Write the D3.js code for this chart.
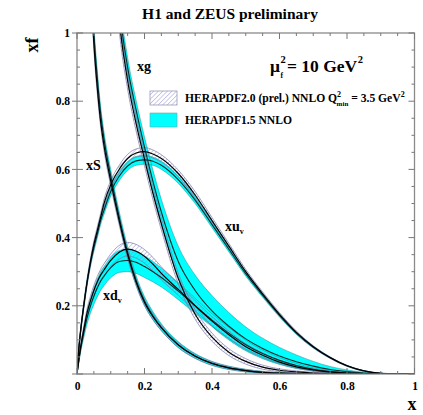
<!DOCTYPE html>
<html><head><meta charset="utf-8">
<script src="https://cdn.jsdelivr.net/npm/d3@7"></script>
<style>
body{margin:0;background:#fff}
text{font-family:"Liberation Serif","Times New Roman",serif;font-weight:bold;fill:#000}
</style>
</head><body>
<svg id="c" width="423" height="415"></svg>
<script>
// ---------------- data ----------------
const xGrid = [0,0.005,0.01,0.02,0.03,0.04,0.05,0.06,0.07,0.08,0.1,0.125,0.15,0.175,0.2,0.225,0.25,0.3,0.35,0.4,0.45,0.5,0.55,0.6,0.65,0.7,0.75,0.8,0.85,0.9,0.95,1.0];

const xuv20    = [0,0.07,0.12,0.2,0.27,0.33,0.38,0.42,0.46,0.5,0.555,0.6,0.632,0.648,0.652,0.645,0.632,0.588,0.525,0.45,0.375,0.3,0.235,0.175,0.122,0.08,0.048,0.024,0.009,0.002,0.0004,0];
const xuv20Err = [0,0.004,0.006,0.008,0.009,0.01,0.01,0.011,0.011,0.012,0.012,0.012,0.012,0.012,0.012,0.012,0.011,0.01,0.01,0.009,0.008,0.007,0.006,0.005,0.004,0.003,0.002,0.0015,0.001,0.0005,0.0002,0];
const xuv15    = [0,0.07,0.12,0.2,0.27,0.325,0.37,0.41,0.45,0.48,0.535,0.58,0.61,0.625,0.628,0.624,0.612,0.57,0.51,0.438,0.366,0.294,0.231,0.172,0.12,0.079,0.048,0.024,0.009,0.002,0.0004,0];
const xuv15Err = [0,0.004,0.006,0.008,0.009,0.01,0.011,0.012,0.012,0.012,0.013,0.013,0.013,0.013,0.013,0.012,0.012,0.011,0.01,0.009,0.008,0.007,0.006,0.005,0.004,0.003,0.002,0.0015,0.001,0.0005,0.0002,0];

const xdv20    = [0,0.04,0.075,0.13,0.18,0.215,0.245,0.27,0.29,0.305,0.333,0.357,0.366,0.36,0.345,0.322,0.295,0.248,0.2,0.155,0.115,0.08,0.055,0.035,0.021,0.012,0.006,0.003,0.001,0.0003,0,0];
const xdv20Err = [0,0.004,0.006,0.01,0.012,0.014,0.015,0.016,0.017,0.018,0.019,0.02,0.02,0.02,0.02,0.02,0.019,0.017,0.015,0.013,0.011,0.009,0.007,0.005,0.004,0.003,0.002,0.001,0.0005,0.0002,0,0];
const xdv15    = [0,0.035,0.068,0.12,0.165,0.2,0.228,0.252,0.272,0.287,0.312,0.33,0.333,0.328,0.315,0.3,0.283,0.243,0.2,0.158,0.12,0.086,0.06,0.04,0.025,0.014,0.007,0.003,0.001,0.0003,0,0];
const xdv15Err = [0,0.005,0.008,0.014,0.018,0.021,0.024,0.026,0.027,0.028,0.03,0.032,0.033,0.033,0.032,0.03,0.028,0.025,0.022,0.019,0.016,0.013,0.01,0.008,0.006,0.004,0.003,0.002,0.001,0.0005,0,0];

const xS20    = [null,null,3.0,1.9,1.45,1.17,0.97,0.84,0.74,0.67,0.565,0.45,0.35,0.27,0.21,0.168,0.135,0.085,0.052,0.031,0.018,0.01,0.005,0.0025,0.0012,0.0005,0,0,0,0,0,0];
const xS20Err = [null,null,0.04,0.03,0.025,0.02,0.018,0.016,0.015,0.015,0.014,0.013,0.012,0.011,0.01,0.009,0.008,0.007,0.006,0.005,0.004,0.003,0.002,0.001,0.001,0,0,0,0,0,0,0];
const xS15    = [null,null,3.05,1.95,1.5,1.21,1.0,0.87,0.765,0.69,0.58,0.46,0.357,0.275,0.214,0.171,0.137,0.086,0.053,0.031,0.018,0.01,0.005,0.0025,0.0012,0.0005,0,0,0,0,0,0];
const xS15Err = [null,null,0.05,0.04,0.032,0.027,0.024,0.022,0.02,0.02,0.019,0.017,0.016,0.014,0.013,0.012,0.01,0.009,0.007,0.006,0.005,0.004,0.003,0.002,0.001,0,0,0,0,0,0,0];

const xg20    = [null,null,null,null,null,null,3.0,2.5,2.1,1.8,1.38,1.04,0.86,0.735,0.63,0.53,0.44,0.28,0.175,0.108,0.064,0.037,0.02,0.011,0.006,0.003,0.0015,0.0007,0.0003,0,0,0];
const xg20Err = [null,null,null,null,null,null,0.06,0.05,0.045,0.04,0.035,0.03,0.025,0.022,0.02,0.019,0.018,0.016,0.014,0.012,0.01,0.008,0.006,0.004,0.003,0.002,0.001,0.0005,0.0002,0,0,0];
const xg15    = [null,null,null,null,null,null,3.05,2.55,2.15,1.85,1.42,1.08,0.9,0.775,0.665,0.565,0.475,0.33,0.245,0.185,0.14,0.103,0.075,0.053,0.036,0.023,0.013,0.007,0.003,0.001,0,0];
const xg15Err = [null,null,null,null,null,null,0.06,0.05,0.045,0.04,0.035,0.03,0.028,0.028,0.03,0.033,0.037,0.045,0.045,0.045,0.04,0.035,0.03,0.025,0.02,0.014,0.009,0.005,0.002,0.001,0,0];

const xTicks = [0,0.2,0.4,0.6,0.8,1];
const xTickLabels = ["0","0.2","0.4","0.6","0.8","1"];
const yTicks = [0.2,0.4,0.6,0.8,1];
const yTickLabels = ["0.2","0.4","0.6","0.8","1"];

const legendLabels = ["HERAPDF2.0 (prel.) NNLO Q", "HERAPDF1.5 NNLO"];
// ---------------- drawing ----------------
const svg = d3.select("#c");
const L = 77, R = 414.5, T = 33, B = 374;
const x = d3.scaleLinear().domain([0,1]).range([L,R]);
const y = d3.scaleLinear().domain([0,1]).range([B,T]);

const defs = svg.append("defs");
const pat = defs.append("pattern").attr("id","hatch").attr("patternUnits","userSpaceOnUse")
  .attr("width",3.2).attr("height",3.2).attr("patternTransform","rotate(45)");
pat.append("line").attr("x1",0).attr("y1",0).attr("x2",0).attr("y2",3.2)
  .attr("stroke","#8f8fd6").attr("stroke-width",0.9);
defs.append("clipPath").attr("id","clip").append("rect")
  .attr("x",L).attr("y",T).attr("width",R-L).attr("height",B-T);

function rows(c, e){ return xGrid.map((xv,i)=>({x:xv, c:c[i], e:e[i]})); }
const ok = d => d.c !== null && d.c !== undefined;
const area = d3.area().defined(ok).curve(d3.curveMonotoneX)
  .x(d=>x(d.x)).y0(d=>y(Math.max(0,d.c-d.e))).y1(d=>y(d.c+d.e));
const lineC = d3.line().defined(ok).curve(d3.curveMonotoneX).x(d=>x(d.x)).y(d=>y(d.c));
const lineLo = d3.line().defined(ok).curve(d3.curveMonotoneX).x(d=>x(d.x)).y(d=>y(Math.max(0,d.c-d.e)));
const lineHi = d3.line().defined(ok).curve(d3.curveMonotoneX).x(d=>x(d.x)).y(d=>y(d.c+d.e));

const set15 = [rows(xuv15,xuv15Err), rows(xdv15,xdv15Err), rows(xS15,xS15Err), rows(xg15,xg15Err)];
const set20 = [rows(xuv20,xuv20Err), rows(xdv20,xdv20Err), rows(xS20,xS20Err), rows(xg20,xg20Err)];

const g = svg.append("g").attr("clip-path","url(#clip)");
set15.forEach(d=>{
  g.append("path").datum(d).attr("d",area).attr("fill","#00ffff").attr("stroke","none");
});
set15.forEach(d=>{
  g.append("path").datum(d).attr("d",lineLo).attr("fill","none").attr("stroke","#1a8f8f").attr("stroke-width",0.5);
  g.append("path").datum(d).attr("d",lineHi).attr("fill","none").attr("stroke","#1a8f8f").attr("stroke-width",0.5);
});
set20.forEach(d=>{
  g.append("path").datum(d).attr("d",area).attr("fill","url(#hatch)").attr("stroke","none");
  g.append("path").datum(d).attr("d",lineLo).attr("fill","none").attr("stroke","#7a7aa8").attr("stroke-width",0.7);
  g.append("path").datum(d).attr("d",lineHi).attr("fill","none").attr("stroke","#7a7aa8").attr("stroke-width",0.7);
});
set15.forEach(d=>{
  g.append("path").datum(d).attr("d",lineC).attr("fill","none").attr("stroke","#0b2b2b").attr("stroke-width",1.1);
});
set20.forEach(d=>{
  g.append("path").datum(d).attr("d",lineC).attr("fill","none").attr("stroke","#000").attr("stroke-width",1.2);
});

// frame and ticks
const fr = svg.append("g");
fr.append("rect").attr("x",L).attr("y",T).attr("width",R-L).attr("height",B-T)
  .attr("fill","none").attr("stroke","#8a8a8a").attr("stroke-width",1.3);
const minorX = d3.range(0,1.0001,0.05);
minorX.forEach(v=>{
  const major = Math.abs(v*5-Math.round(v*5))<1e-6;
  const len = major?6:3;
  fr.append("line").attr("x1",x(v)).attr("x2",x(v)).attr("y1",B).attr("y2",B-len).attr("stroke","#777").attr("stroke-width",1);
  fr.append("line").attr("x1",x(v)).attr("x2",x(v)).attr("y1",T).attr("y2",T+len).attr("stroke","#777").attr("stroke-width",1);
  fr.append("line").attr("y1",y(v)).attr("y2",y(v)).attr("x1",L-(major?5:0)).attr("x2",L+len).attr("stroke","#777").attr("stroke-width",1);
  fr.append("line").attr("y1",y(v)).attr("y2",y(v)).attr("x1",R).attr("x2",R-len).attr("stroke","#777").attr("stroke-width",1);
});
const xAxis = d3.axisBottom(x).tickValues(xTicks).tickFormat((d,i)=>xTickLabels[i]).tickSize(0).tickPadding(8);
const ax = svg.append("g").attr("transform",`translate(0,${B})`).call(xAxis);
ax.select(".domain").remove();
ax.selectAll("text").style("font-family",'"Liberation Serif",serif').style("font-weight","bold").style("font-size","11.5px").attr("fill","#000");
const yAxis = d3.axisLeft(y).tickValues(yTicks).tickFormat((d,i)=>yTickLabels[i]).tickSize(0).tickPadding(7);
const ay = svg.append("g").attr("transform",`translate(${L},0)`).call(yAxis);
ay.select(".domain").remove();
ay.selectAll("text").style("font-family",'"Liberation Serif",serif').style("font-weight","bold").style("font-size","11.5px").attr("fill","#000");

// titles
svg.append("text").attr("x",230).attr("y",19).attr("text-anchor","middle").style("font-size","15.5px").text("H1 and ZEUS preliminary");
svg.append("text").attr("transform","translate(38,45) rotate(-90)").attr("text-anchor","middle").style("font-size","18px").text("xf");
svg.append("text").attr("x",412).attr("y",410).attr("text-anchor","middle").style("font-size","18px").text("x");

// mu_f^2 = 10 GeV^2 (pieces placed side by side)
const muMain = svg.append("text").attr("x",270).attr("y",72).style("font-size","17.5px").text("μ");
const muW = muMain.node().getComputedTextLength();
svg.append("text").attr("x",270+muW+0.5).attr("y",63).style("font-size","10.5px").text("2");
svg.append("text").attr("x",270+muW+0.5).attr("y",78).style("font-size","7.5px").text("f");
const geT = svg.append("text").attr("x",270+muW+7).attr("y",72).style("font-size","17.5px").text("= 10 GeV");
const geW = geT.node().getComputedTextLength();
svg.append("text").attr("x",270+muW+7+geW+0.5).attr("y",63).style("font-size","10.5px").text("2");

// legend
svg.append("rect").attr("x",150).attr("y",91).attr("width",27).attr("height",14).attr("fill","url(#hatch)").attr("stroke","#9a9ab8").attr("stroke-width",0.8);
svg.append("rect").attr("x",150).attr("y",113).attr("width",27).attr("height",14).attr("fill","#00ffff").attr("stroke","#6aa").attr("stroke-width",0.6);
const l1 = svg.append("text").attr("x",185).attr("y",102).style("font-size","11.6px");
l1.append("tspan").text(legendLabels[0]);
l1.append("tspan").attr("dy",-5).style("font-size","8px").text("2");
l1.append("tspan").attr("dx",-4.5).attr("dy",9).style("font-size","7px").text("min");
l1.append("tspan").attr("dy",-4).text(" = 3.5 GeV");
l1.append("tspan").attr("dy",-5).style("font-size","8px").text("2");
svg.append("text").attr("x",185).attr("y",124).style("font-size","11.6px").text(legendLabels[1]);

// curve labels
svg.append("text").attr("x",137).attr("y",71).style("font-size","14px").text("xg");
svg.append("text").attr("x",86).attr("y",170).style("font-size","14px").text("xS");
const lu = svg.append("text").attr("x",225).attr("y",231).style("font-size","14px");
lu.append("tspan").text("xu"); lu.append("tspan").attr("dy",3).style("font-size","8px").text("v");
const ld = svg.append("text").attr("x",103).attr("y",300).style("font-size","14px");
ld.append("tspan").text("xd"); ld.append("tspan").attr("dy",3).style("font-size","8px").text("v");
</script>
</body></html>
